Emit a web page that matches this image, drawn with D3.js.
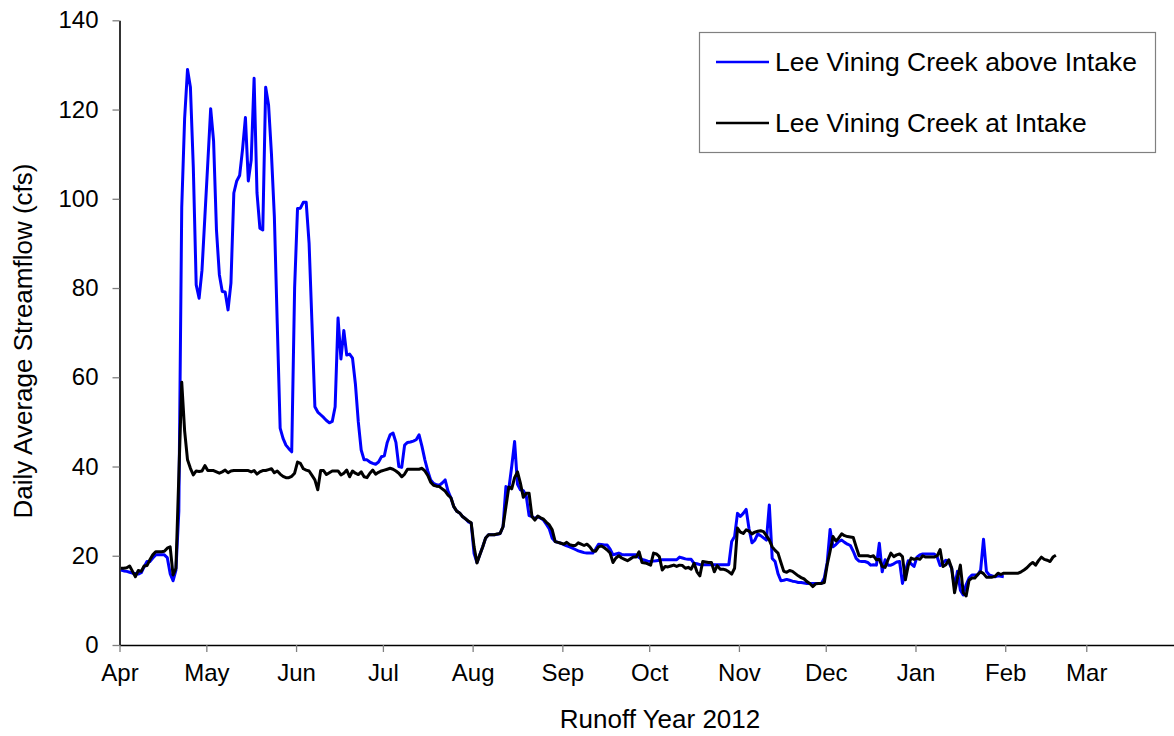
<!DOCTYPE html>
<html>
<head>
<meta charset="utf-8">
<script src="https://cdn.jsdelivr.net/npm/d3@7"></script>
<style>
  html, body { margin: 0; padding: 0; background: #fff; }
  svg { display: block; font-family: "Liberation Sans", Arial, sans-serif; }
</style>
</head>
<body>
<div id="chart"></div>
<script>
// daily average flow (cfs), one value per day starting 1 Apr 2012
const aboveIntake = [
  16.8, 16.6, 16.5, 16.3, 16.1, 16.0, 15.9, 16.2, 17.5, 18.7,
  18.7, 19.5, 20.2, 20.2, 20.2, 20.2, 19.6, 16.0, 14.4, 16.8,
  30.0, 98.0, 118.0, 129.0, 125.0, 107.0, 80.7, 77.7, 84.0, 96.0,
  108.0, 120.2, 113.0, 93.0, 83.0, 79.2, 79.1, 75.1, 81.1, 101.3,
  104.0, 105.2, 111.0, 118.2, 104.0, 108.7, 127.0, 101.3, 93.4, 93.0,
  125.0, 121.0, 110.0, 96.0, 72.0, 48.6, 46.3, 44.8, 44.0, 43.3,
  80.0, 97.8, 97.9, 99.2, 99.2, 90.0, 72.0, 53.4, 52.2, 51.6,
  51.0, 50.3, 49.8, 50.1, 53.4, 73.3, 64.1, 70.5, 65.0, 65.2,
  64.3, 58.5, 50.0, 43.7, 41.5, 41.5, 41.0, 40.7, 40.5, 41.0,
  42.2, 42.4, 45.4, 47.1, 47.5, 45.4, 40.0, 39.8, 44.8, 45.4,
  45.5, 45.7, 46.0, 47.1, 44.5, 41.5, 39.0, 37.0, 36.2, 35.9,
  35.8, 36.3, 37.0, 34.5, 33.0, 31.0, 30.0, 29.6, 28.8, 28.3,
  27.6, 27.3, 20.5, 18.5, 20.3, 22.0, 24.0, 24.7, 24.7, 24.7,
  24.8, 25.0, 26.5, 35.5, 35.0, 40.0, 45.6, 36.0, 34.8, 34.6,
  33.5, 29.0, 28.8, 28.3, 28.8, 28.4, 28.0, 27.0, 26.0, 23.9,
  23.2, 23.0, 22.8, 22.5, 22.2, 22.0, 21.7, 21.4, 21.1, 20.9,
  20.7, 20.6, 20.6, 20.6, 21.5, 22.6, 22.5, 22.4, 22.4, 21.5,
  20.2, 20.4, 20.6, 20.3, 20.2, 20.2, 20.2, 20.2, 20.2, 19.6,
  19.2, 19.0, 18.8, 18.7, 18.8, 18.9, 19.0, 19.1, 19.1, 19.1,
  19.1, 19.1, 19.1, 19.7, 19.5, 19.3, 19.2, 19.2, 18.3, 18.2,
  18.0, 18.0, 18.0, 18.0, 18.0, 18.0, 18.0, 18.0, 18.0, 18.0,
  18.0, 23.2, 24.3, 29.5, 28.8, 29.5, 30.4, 26.0, 22.9, 23.5,
  24.9, 24.5, 24.0, 23.5, 31.4, 19.4, 18.7, 16.0, 14.4, 14.5,
  14.7, 14.5, 14.3, 14.2, 14.0, 14.0, 13.9, 13.8, 13.8, 13.8,
  13.8, 13.8, 13.8, 15.0, 18.5, 25.9, 22.0, 22.5, 23.2, 23.5,
  23.0, 22.6, 22.3, 21.0, 19.4, 18.8, 18.7, 18.7, 18.5, 17.9,
  18.0, 17.9, 22.8, 16.4, 19.1, 17.9, 17.9, 18.2, 18.6, 18.7,
  13.8, 16.5, 18.9, 18.2, 17.6, 19.7, 20.2, 20.4, 20.4, 20.4,
  20.4, 20.4, 19.7, 17.8, 18.4, 19.0, 18.5, 17.2, 13.0, 16.5,
  12.3, 11.2, 13.5, 15.0, 15.7, 15.7, 15.7, 16.8, 23.7, 16.5,
  15.7, 15.5, 15.3, 15.5, 15.4, 15.3
];

const atIntake = [
  17.2, 17.2, 17.3, 17.7, 16.5, 15.3, 16.7, 16.5, 17.7, 17.8,
  19.1, 20.2, 20.9, 20.9, 20.9, 21.0, 21.7, 22.0, 15.7, 17.2,
  38.0, 58.9, 48.0, 41.5, 39.6, 38.1, 39.0, 38.9, 39.0, 40.2,
  39.1, 39.1, 39.1, 38.8, 38.5, 38.8, 39.2, 38.6, 39.0, 39.1,
  39.1, 39.1, 39.1, 39.1, 39.1, 38.8, 39.1, 38.3, 38.8, 39.1,
  39.1, 39.3, 39.5, 38.6, 39.0, 38.3, 37.8, 37.5, 37.5, 37.8,
  38.5, 41.0, 40.7, 39.5, 39.2, 39.0, 38.0, 37.0, 34.8, 39.1,
  39.1, 38.2, 38.6, 39.0, 39.0, 39.0, 38.1, 38.5, 39.2, 37.7,
  39.0, 38.5, 38.2, 38.8, 37.7, 37.5, 38.5, 39.2, 38.3, 38.7,
  39.0, 39.2, 39.4, 39.6, 39.4, 39.0, 38.5, 37.7, 38.3, 39.4,
  39.4, 39.4, 39.4, 39.4, 39.6, 39.0, 38.0, 36.5, 35.8, 35.6,
  35.5, 35.0, 34.5, 33.6, 33.0, 31.0, 30.0, 29.6, 28.8, 28.3,
  27.8, 27.4, 22.0, 18.4, 20.2, 22.0, 24.0, 24.7, 24.7, 24.7,
  24.9, 25.0, 26.5, 31.0, 35.4, 35.0, 37.5, 38.8, 36.3, 33.1,
  34.0, 34.0, 28.8, 28.0, 28.9, 28.5, 28.2, 27.5, 26.9, 25.8,
  23.2, 23.0, 22.8, 22.6, 23.0, 22.5, 22.3, 22.3, 22.9, 22.6,
  22.3, 22.6, 22.0, 21.1, 21.0, 22.0, 22.2, 21.8, 21.3, 20.6,
  18.5, 19.5, 20.0, 19.5, 19.2, 18.9, 19.3, 19.7, 19.7, 20.9,
  18.5, 18.4, 18.2, 17.9, 20.6, 20.4, 19.8, 16.8, 17.6, 17.5,
  17.7, 17.9, 17.6, 17.9, 17.8, 17.2, 17.4, 17.0, 18.3, 16.4,
  15.5, 18.7, 18.6, 18.5, 18.5, 16.4, 17.8, 17.0, 17.0, 16.8,
  16.4, 15.9, 17.2, 26.2, 25.3, 25.0, 25.8, 25.5, 24.9, 25.3,
  25.5, 25.6, 25.4, 24.5, 23.5, 22.0, 21.2, 20.6, 18.5, 16.5,
  16.3, 16.7, 16.5, 16.0, 15.5, 15.1, 14.8, 14.2, 13.8, 13.1,
  13.7, 13.8, 13.8, 14.0, 18.0, 21.0, 24.3, 23.3, 24.0, 24.9,
  24.5, 24.3, 24.2, 24.1, 22.0, 20.0, 20.0, 20.0, 20.0, 19.8,
  20.0, 19.1, 19.2, 17.6, 17.4, 19.1, 20.6, 19.8, 20.2, 20.4,
  19.8, 14.6, 17.8, 19.5, 19.2, 19.4, 19.2, 20.0, 19.7, 19.7,
  19.7, 19.7, 20.0, 21.4, 17.6, 18.0, 19.1, 17.2, 11.7, 15.0,
  17.9, 11.7, 11.0, 14.5, 15.0, 15.0, 15.8, 16.4, 16.0, 15.2,
  15.2, 15.2, 15.4, 16.1, 15.8, 16.1, 16.1, 16.1, 16.1, 16.1,
  16.1, 16.4, 16.8, 17.3, 18.0, 18.5, 17.9, 18.9, 19.7, 19.2,
  19.0, 18.7, 19.7, 20.1
];

const seriesNames = ["Lee Vining Creek above Intake", "Lee Vining Creek at Intake"];
const seriesColors = ["#0000ff", "#000000"];
const yTicks = [0, 20, 40, 60, 80, 100, 120, 140];
const monthTicks = d3.utcMonth.range(new Date(Date.UTC(2012, 3, 1)), new Date(Date.UTC(2013, 2, 2)));

const startDate = Date.UTC(2012, 3, 1);
const dayMs = 864e5;

const width = 1174, height = 736;
const svg = d3.select("#chart").append("svg")
  .attr("width", width)
  .attr("height", height);

const x = d3.scaleUtc()
  .domain([new Date(startDate), new Date(Date.UTC(2013, 3, 1))])
  .range([119.5, 1176]);

const y = d3.scaleLinear()
  .domain([0, 140])
  .range([645, 20.3]);

// --- axes ---
const yAxis = svg.append("g")
  .attr("transform", "translate(119.5,0)")
  .call(d3.axisLeft(y).tickValues(yTicks).tickSize(7).tickSizeOuter(0).tickPadding(14));

const xAxis = svg.append("g")
  .attr("transform", "translate(0,645)")
  .call(d3.axisBottom(x)
    .tickValues(monthTicks)
    .tickFormat(d3.utcFormat("%b"))
    .tickSize(7).tickSizeOuter(0).tickPadding(12));

[yAxis, xAxis].forEach(a => {
  a.select(".domain").attr("stroke", "#000").attr("stroke-width", 1.6);
  a.selectAll(".tick line").attr("stroke", "#808080").attr("stroke-width", 1.3);
  a.selectAll(".tick text")
    .attr("fill", "#000")
    .style("font-size", "24px")
    .style("font-family", "'Liberation Sans', Arial, sans-serif");
});

svg.append("text")
  .attr("transform", "translate(32,341) rotate(-90)")
  .attr("text-anchor", "middle")
  .style("font-size", "26px")
  .text("Daily Average Streamflow (cfs)");

svg.append("text")
  .attr("x", 660)
  .attr("y", 728)
  .attr("text-anchor", "middle")
  .style("font-size", "26px")
  .text("Runoff Year 2012");

// --- lines ---
const line = d3.line()
  .x((d, i) => x(new Date(startDate + (i + 0.5) * dayMs)))
  .y(d => y(d));

// blue first, black drawn on top
[aboveIntake, atIntake].forEach((vals, k) => {
  svg.append("path")
    .datum(vals)
    .attr("fill", "none")
    .attr("stroke", seriesColors[k])
    .attr("stroke-width", 3)
    .attr("stroke-linejoin", "round")
    .attr("d", line);
});

// --- legend ---
const legend = svg.append("g");
legend.append("rect")
  .attr("x", 699.5).attr("y", 32.5)
  .attr("width", 456).attr("height", 120)
  .attr("fill", "#fff")
  .attr("stroke", "#808080")
  .attr("stroke-width", 1.2);

seriesNames.forEach((name, i) => {
  const ly = i === 0 ? 62 : 123;
  legend.append("line")
    .attr("x1", 716).attr("x2", 769)
    .attr("y1", ly).attr("y2", ly)
    .attr("stroke", seriesColors[i])
    .attr("stroke-width", 2.5);
  legend.append("text")
    .attr("x", 775)
    .attr("y", ly + 9)
    .style("font-size", "26.5px")
    .text(name);
});
</script>
</body>
</html>
